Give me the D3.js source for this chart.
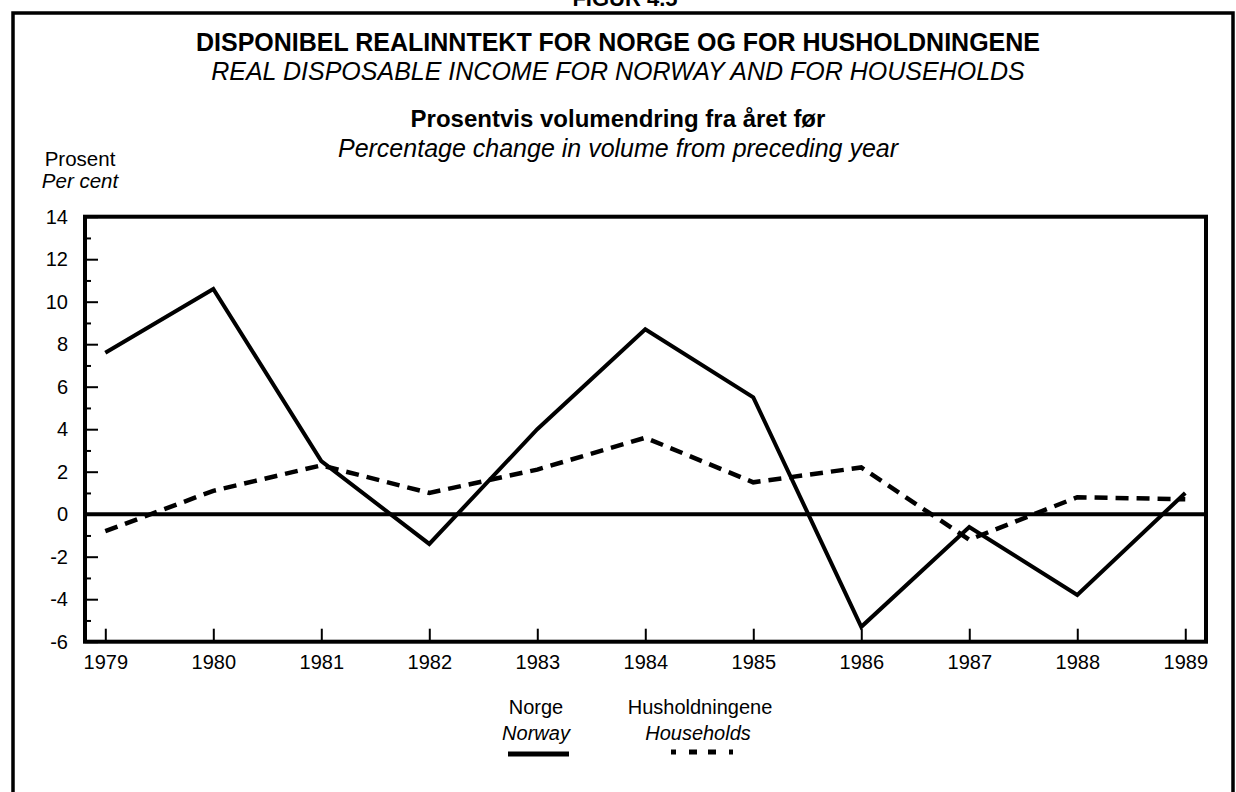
<!DOCTYPE html>
<html>
<head>
<meta charset="utf-8">
<script src="https://cdn.jsdelivr.net/npm/d3@7"></script>
<style>
  body { margin: 0; background: #fff; }
  svg { display: block; font-family: "Liberation Sans", Arial, Helvetica, sans-serif; }
  .axis text { font-size: 20px; fill: #000; }
  .axis line { stroke: #000; stroke-width: 2; }
</style>
</head>
<body>
<svg id="chart" width="1236" height="792"></svg>
<script>
// data
const years = [1979, 1980, 1981, 1982, 1983, 1984, 1985, 1986, 1987, 1988, 1989];
const norway = [7.6, 10.6, 2.5, -1.4, 4.0, 8.7, 5.5, -5.3, -0.6, -3.8, 1.0];
const households = [-0.8, 1.1, 2.3, 1.0, 2.1, 3.6, 1.5, 2.2, -1.2, 0.8, 0.7];
const yTicks = [-6, -4, -2, 0, 2, 4, 6, 8, 10, 12, 14];
const yMinorTicks = [-5, -3, -1, 1, 3, 5, 7, 9, 11, 13];

const svg = d3.select('#chart');

// plot box
const plotLeft = 85, plotRight = 1206, plotTop = 216.7, plotBottom = 641.7;

const x = d3.scaleLinear()
  .domain([1978.812, 1989.192])
  .range([plotLeft, plotRight]);

const y = d3.scaleLinear()
  .domain([-6, 14])
  .range([plotBottom, plotTop]);

// outer frame (bottom edge runs off the page)
svg.append('path')
  .attr('d', `M13,800 L13,13 L1233,13 L1233,800`)
  .attr('fill', 'none')
  .attr('stroke', '#000')
  .attr('stroke-width', 3.5);

// figure number, mostly cut off at the top like in the scan
svg.append('text')
  .attr('x', 625).attr('y', 6)
  .attr('text-anchor', 'middle')
  .attr('font-size', 22).attr('font-weight', 'bold')
  .text('FIGUR 4.5');

// titles
const titles = [
  { t: 'DISPONIBEL REALINNTEKT FOR NORGE OG FOR HUSHOLDNINGENE', y: 51, w: 'bold', s: 'normal', size: 25 },
  { t: 'REAL DISPOSABLE INCOME FOR NORWAY AND FOR HOUSEHOLDS', y: 80, w: 'normal', s: 'italic', size: 25 },
  { t: 'Prosentvis volumendring fra året før', y: 127, w: 'bold', s: 'normal', size: 24 },
  { t: 'Percentage change in volume from preceding year', y: 157, w: 'normal', s: 'italic', size: 25 }
];
svg.selectAll('.title')
  .data(titles)
  .join('text')
  .attr('class', 'title')
  .attr('x', 618)
  .attr('y', d => d.y)
  .attr('text-anchor', 'middle')
  .attr('font-size', d => d.size)
  .attr('font-weight', d => d.w)
  .attr('font-style', d => d.s)
  .text(d => d.t);

// y unit label
svg.append('text')
  .attr('x', 80).attr('y', 166)
  .attr('text-anchor', 'middle')
  .attr('font-size', 20.5)
  .text('Prosent');
svg.append('text')
  .attr('x', 80).attr('y', 188)
  .attr('text-anchor', 'middle')
  .attr('font-size', 20.5)
  .attr('font-style', 'italic')
  .text('Per cent');

// axes, ticks pointing into the plot
const yAxis = d3.axisLeft(y)
  .tickValues(yTicks)
  .tickFormat(d => String(d))   // plain hyphen like the original
  .tickSizeInner(-13)
  .tickSizeOuter(0)
  .tickPadding(17);

svg.append('g')
  .attr('class', 'axis')
  .attr('transform', `translate(${plotLeft},0)`)
  .call(yAxis)
  .call(g => g.select('.domain').remove());

svg.append('g')
  .attr('class', 'axis')
  .attr('transform', `translate(${plotLeft},0)`)
  .call(d3.axisLeft(y).tickValues(yMinorTicks).tickSizeInner(-6).tickSizeOuter(0).tickFormat(''))
  .call(g => g.select('.domain').remove());

const xAxis = d3.axisBottom(x)
  .tickValues(years)
  .tickFormat(d3.format('d'))
  .tickSizeInner(-13)
  .tickSizeOuter(0)
  .tickPadding(13);

svg.append('g')
  .attr('class', 'axis')
  .attr('transform', `translate(0,${plotBottom})`)
  .call(xAxis)
  .call(g => g.select('.domain').remove());

// zero line
svg.append('line')
  .attr('x1', plotLeft).attr('x2', plotRight)
  .attr('y1', y(0)).attr('y2', y(0))
  .attr('stroke', '#000')
  .attr('stroke-width', 4);

// plot border
svg.append('rect')
  .attr('x', plotLeft).attr('y', plotTop)
  .attr('width', plotRight - plotLeft).attr('height', plotBottom - plotTop)
  .attr('fill', 'none')
  .attr('stroke', '#000')
  .attr('stroke-width', 4);

// series
const line = d3.line()
  .x((d, i) => x(years[i]))
  .y(d => y(d));

svg.append('path')
  .datum(norway)
  .attr('d', line)
  .attr('fill', 'none')
  .attr('stroke', '#000')
  .attr('stroke-width', 4)
  .attr('stroke-linejoin', 'miter');

svg.append('path')
  .datum(households)
  .attr('d', line)
  .attr('fill', 'none')
  .attr('stroke', '#000')
  .attr('stroke-width', 4.5)
  .attr('stroke-dasharray', '13,8');

// legend
const legend = svg.append('g').attr('font-size', 20);

legend.append('text').attr('x', 536).attr('y', 714).attr('text-anchor', 'middle').text('Norge');
legend.append('text').attr('x', 536).attr('y', 740).attr('text-anchor', 'middle')
  .attr('font-style', 'italic').text('Norway');
legend.append('line')
  .attr('x1', 508).attr('x2', 569).attr('y1', 754).attr('y2', 754)
  .attr('stroke', '#000').attr('stroke-width', 5);

legend.append('text').attr('x', 700).attr('y', 714).attr('text-anchor', 'middle').text('Husholdningene');
legend.append('text').attr('x', 698).attr('y', 740).attr('text-anchor', 'middle')
  .attr('font-style', 'italic').text('Households');
legend.append('line')
  .attr('x1', 671).attr('x2', 733).attr('y1', 752).attr('y2', 752)
  .attr('stroke', '#000').attr('stroke-width', 5)
  .attr('stroke-dasharray', '5,13,8,11,8,13,4');
</script>
</body>
</html>
